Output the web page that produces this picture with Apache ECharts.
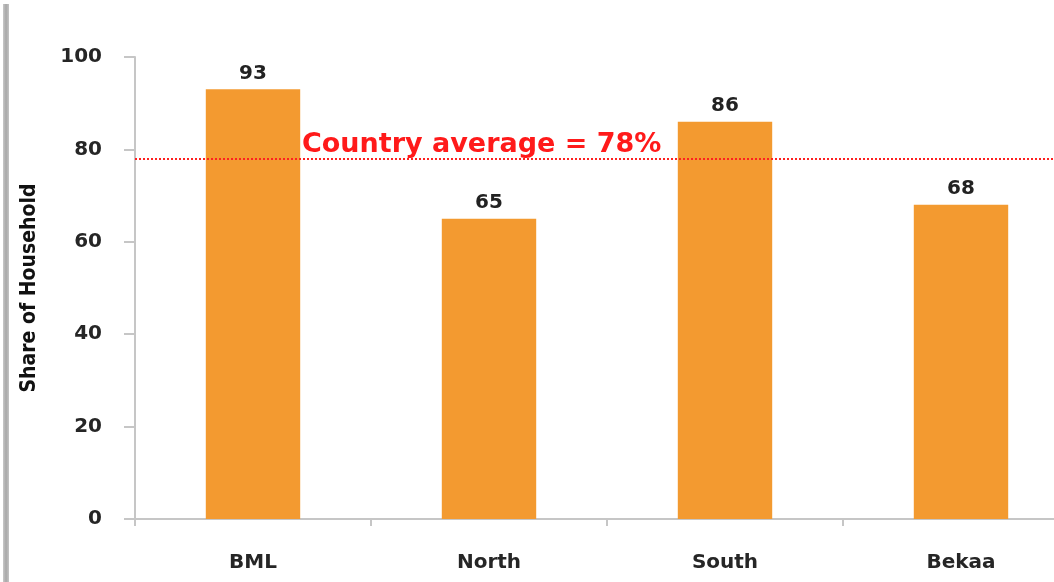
<!DOCTYPE html>
<html>
<head>
<meta charset="utf-8">
<script src="https://cdn.jsdelivr.net/npm/echarts@6/dist/echarts.min.js"></script>
<style>
  html, body { margin: 0; padding: 0; background: #ffffff; }
  #chart { width: 1054px; height: 582px; }
</style>
</head>
<body>
<div id="chart"></div>
<script>
// Household share by region
const regions = ['BML', 'North', 'South', 'Bekaa'];
const shares = [93, 65, 86, 68];
const countryAverage = 78;
const yTicks = { min: 0, max: 100, interval: 20 };

const textFont = 'DejaVu Sans';
const chart = echarts.init(document.getElementById('chart'));

chart.setOption({
  animation: false,
  backgroundColor: '#ffffff',
  graphic: [{
    type: 'rect',
    left: 3,
    top: 4,
    shape: { width: 6, height: 578 },
    style: {
      fill: new echarts.graphic.LinearGradient(0, 0, 1, 0, [
        { offset: 0, color: '#c8c8c8' },
        { offset: 0.5, color: '#a8a8a8' },
        { offset: 1, color: '#c4c4c4' }
      ])
    },
    silent: true
  }],
  // the plot runs on past the right edge of the page
  grid: { left: 135, top: 57, width: 944, height: 462, outerBoundsMode: 'none', containLabel: false },
  xAxis: {
    type: 'category',
    data: regions,
    axisLine: { show: true, lineStyle: { color: '#c6c6c6', width: 2 } },
    axisTick: { show: true, length: 7, lineStyle: { color: '#c6c6c6', width: 2 } },
    axisLabel: {
      margin: 34,
      color: '#262626',
      fontFamily: textFont,
      fontWeight: 'bold',
      fontSize: 20
    }
  },
  yAxis: {
    type: 'value',
    min: yTicks.min,
    max: yTicks.max,
    interval: yTicks.interval,
    name: 'Share of Household',
    nameLocation: 'middle',
    nameGap: 95,
    nameRotate: 90,
    nameTextStyle: {
      fontFamily: 'DejaVu Sans Condensed',
      fontWeight: 'bold',
      fontSize: 21,
      color: '#111111'
    },
    axisLine: { show: true, lineStyle: { color: '#c6c6c6', width: 2 } },
    axisTick: { show: true, length: 11, lineStyle: { color: '#c6c6c6', width: 2 } },
    splitLine: { show: false },
    axisLabel: {
      margin: 33,
      color: '#262626',
      fontFamily: textFont,
      fontWeight: 'bold',
      fontSize: 20
    }
  },
  series: [{
    type: 'bar',
    data: shares,
    barWidth: '40%',
    itemStyle: { color: '#F39A30' },
    label: {
      show: true,
      position: 'top',
      distance: 6,
      color: '#222222',
      fontFamily: textFont,
      fontWeight: 'bold',
      fontSize: 20
    },
    markLine: {
      silent: true,
      symbol: 'none',
      data: [{ yAxis: countryAverage }],
      lineStyle: { color: '#ff2020', type: 'dotted', width: 2 },
      label: {
        show: true,
        position: 'insideStartTop',
        distance: [167, 0],
        formatter: 'Country average = ' + countryAverage + '%',
        color: '#ff1a1a',
        fontFamily: textFont,
        fontWeight: 'bold',
        fontSize: 27
      }
    }
  }]
});
</script>
</body>
</html>
